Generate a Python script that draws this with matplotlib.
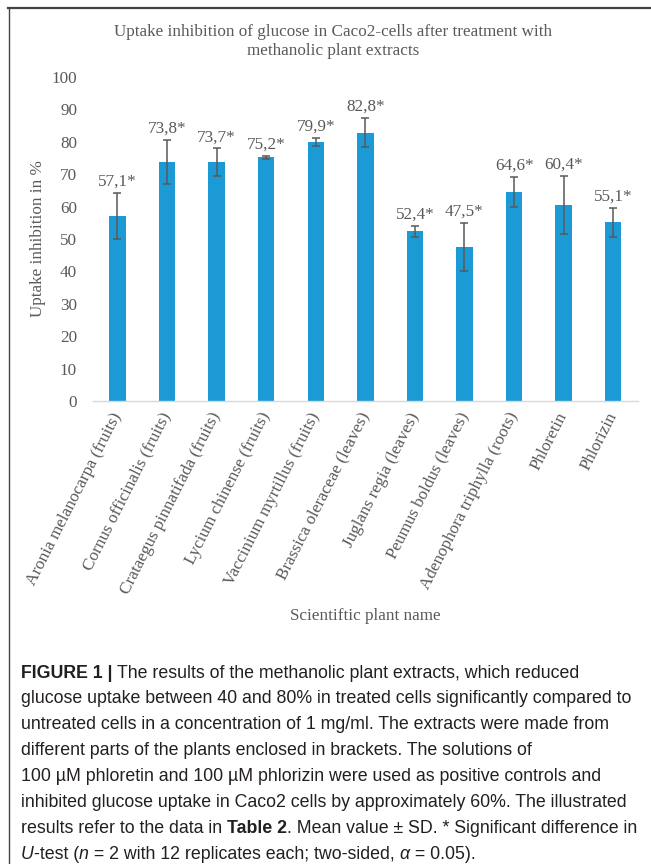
import matplotlib
matplotlib.use("Agg")
import matplotlib.pyplot as plt
from matplotlib.lines import Line2D

# ---- data -------------------------------------------------------------
plants = [
    "Aronia melanocarpa (fruits)",
    "Cornus officinalis (fruits)",
    "Crataegus pinnatifada (fruits)",
    "Lycium chinense (fruits)",
    "Vaccinium myrtillus (fruits)",
    "Brassica oleraceae (leaves)",
    "Juglans regia (leaves)",
    "Peumus boldus (leaves)",
    "Adenophora triphylla (roots)",
    "Phloretin",
    "Phlorizin",
]
inhibition = [57.1, 73.8, 73.7, 75.2, 79.9, 82.8, 52.4, 47.5, 64.6, 60.4, 55.1]
sd = [7.2, 6.8, 4.3, 0.5, 1.2, 4.5, 1.7, 7.5, 4.6, 9.0, 4.5]
value_labels = ["57,1*", "73,8*", "73,7*", "75,2*", "79,9*", "82,8*",
                "52,4*", "47,5*", "64,6*", "60,4*", "55,1*"]
y_ticks = [0, 10, 20, 30, 40, 50, 60, 70, 80, 90, 100]

# ---- style ------------------------------------------------------------
W, H, DPI = 651, 864, 100
SERIF = "Liberation Serif"
SANS = "Liberation Sans"
GREY = "#595959"
BAR = "#1B9AD6"
FS = 12.3

fig = plt.figure(figsize=(W / DPI, H / DPI), dpi=DPI)

# frame lines (top and left)
fig.add_artist(Line2D([8 / W, 1.0], [1 - 8 / H, 1 - 8 / H], color="#444444", lw=1.6))
fig.add_artist(Line2D([8.5 / W, 8.5 / W], [0, 1 - 8 / H], color="#444444", lw=1.0))

ax = fig.add_axes([92.7 / W, 1 - 401 / H, (638 - 92.7) / W, (401 - 77) / H])
x = list(range(len(plants)))
ax.bar(x, inhibition, width=0.33, color=BAR, zorder=2)
ax.errorbar(x, inhibition, yerr=sd, fmt="none", ecolor=GREY, elinewidth=1.1,
            capsize=3, capthick=1.1, zorder=3)

for i, (v, e, lab) in enumerate(zip(inhibition, sd, value_labels)):
    ax.annotate(lab, (i, v + e), xytext=(0, 8), textcoords="offset points",
                ha="center", va="center", fontsize=FS, family=SERIF, color=GREY)

ax.set_xlim(-0.5, len(plants) - 0.5)
ax.set_ylim(0, 100)
ax.set_yticks(y_ticks)
ax.set_yticklabels([str(t) for t in y_ticks], family=SERIF, fontsize=FS, color=GREY)
ax.tick_params(axis="y", length=0, pad=11.3)
ax.set_xticks(x)
ax.set_xticklabels(plants, rotation=63, ha="right", va="center",
                   rotation_mode="anchor", family=SERIF, fontsize=FS, color=GREY)
ax.tick_params(axis="x", length=0, pad=9)
for side in ("top", "right", "left"):
    ax.spines[side].set_visible(False)
ax.spines["bottom"].set_color("#D9D9D9")
ax.spines["bottom"].set_linewidth(1.0)

ax.set_ylabel("Uptake inhibition in %", family=SERIF, fontsize=FS, color=GREY)
ax.yaxis.set_label_coords((46 - 92.7) / (638 - 92.7), 0.5)

fig.text(365 / W, 1 - 616 / H, "Scientiftic plant name", ha="center", va="center",
         family=SERIF, fontsize=FS, color=GREY)
fig.text(333 / W, 1 - 41.5 / H,
         "Uptake inhibition of glucose in Caco2-cells after treatment with\nmethanolic plant extracts",
         ha="center", va="center", family=SERIF, fontsize=FS, color=GREY,
         linespacing=1.25)

# ---- caption with mixed styles ---------------------------------------
caption = [
    [("FIGURE 1 | ", "bold"), ("The results of the methanolic plant extracts, which reduced", "normal")],
    [("glucose uptake between 40 and 80% in treated cells significantly compared to", "normal")],
    [("untreated cells in a concentration of 1 mg/ml. The extracts were made from", "normal")],
    [("different parts of the plants enclosed in brackets. The solutions of", "normal")],
    [("100 \u00b5M phloretin and 100 \u00b5M phlorizin were used as positive controls and", "normal")],
    [("inhibited glucose uptake in Caco2 cells by approximately 60%. The illustrated", "normal")],
    [("results refer to the data in ", "normal"), ("Table 2", "bold"),
     (". Mean value \u00b1 SD. * Significant difference in", "normal")],
    [("U", "italic"), ("-test (", "normal"), ("n", "italic"),
     (" = 2 with 12 replicates each; two-sided, ", "normal"), ("\u03b1", "italic"),
     (" = 0.05).", "normal")],
]

renderer = fig.canvas.get_renderer()
CAP_SIZE = 12.8
y0, dy = 671, 25.9
for li, segs in enumerate(caption):
    xp = 21.0
    yp = H - (y0 + li * dy)
    for txt, style in segs:
        kw = dict(family=SANS, fontsize=CAP_SIZE, color="#231F20",
                  ha="left", va="center_baseline")
        if style == "bold":
            kw["weight"] = "bold"
        elif style == "italic":
            kw["style"] = "italic"
        t = fig.text(xp / W, yp / H, txt, **kw)
        bb = t.get_window_extent(renderer)
        xp += bb.width

fig.savefig("out.png", dpi=DPI)
